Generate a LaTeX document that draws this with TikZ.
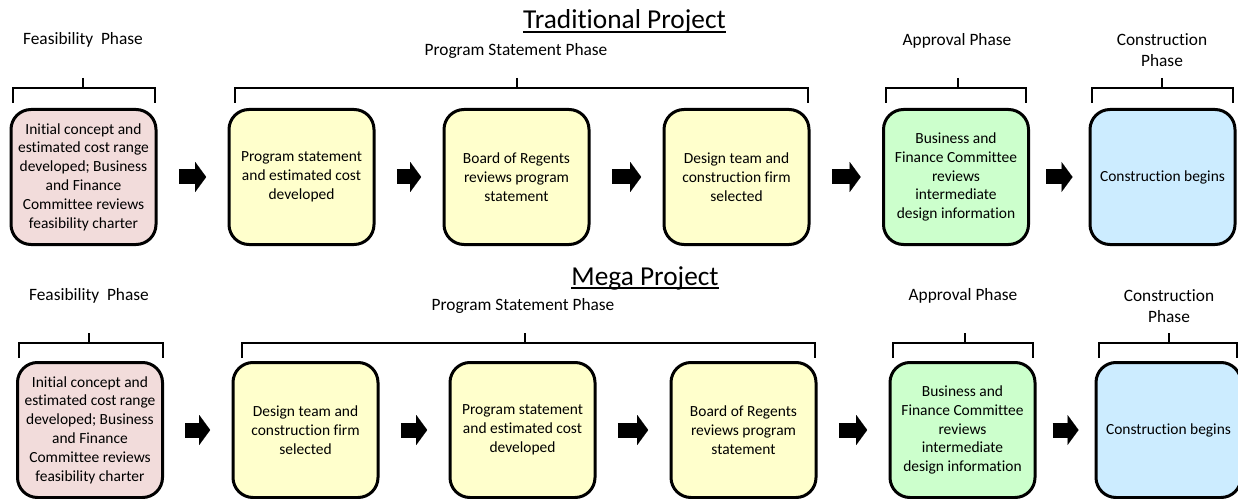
\documentclass[tikz,border=0pt]{standalone}
\usepackage{fontspec}
\setmainfont{Carlito}[Ligatures=NoCommon]
\usetikzlibrary{arrows.meta}
\definecolor{feascol}{HTML}{F2DCDB}
\definecolor{progcol}{HTML}{FFFFCC}
\definecolor{apprcol}{HTML}{CCFFCC}
\definecolor{conscol}{HTML}{CCECFF}
\begin{document}
\begin{tikzpicture}[
    x=0.75pt,y=-0.75pt,
    box/.style={draw,black,line width=2.25pt,rounded corners=15pt,minimum width=108.75pt,minimum height=101.25pt,align=center,inner sep=2pt,font=\fontsize{11.6}{14.1}\selectfont},
    phase/.style={anchor=base,align=center,inner sep=0pt,font=\fontsize{13}{15.75}\selectfont},
    headline/.style={anchor=base,inner sep=0pt,font=\fontsize{20.5}{24}\selectfont},
    brk/.style={draw,black,line width=1.6pt},
    go/.style={line width=11.25pt,-{Triangle[length=8.25pt,width=22.5pt,line width=0.01pt]},shorten <=16pt,shorten >=16pt}
    ]
    \useasboundingbox (0,0) rectangle (1238,499);
    % traditional project
    \node[headline] (trad) at (624.5,29) {Traditional Project};
    \draw[line width=1.5pt] ([yshift=-2.5pt]trad.base west) -- ([yshift=-2.5pt]trad.base east);
    \node[phase] (tfeas) at (83,45) {Feasibility\ \ Phase};
    \node[phase] (tprog) at (516,56) {Program Statement Phase};
    \node[phase] (tappr) at (957,46) {Approval Phase};
    \node[phase] (tcons) at (1162,67) {Construction\\Phase};
    \draw[brk] (13,103) |- (155,88) -- (155,103) (83,78) -- (83,88);
    \draw[brk] (235,103) |- (808,88) -- (808,103) (517,78) -- (517,88);
    \draw[brk] (886,103) |- (1026,88) -- (1026,103) (958,78) -- (958,88);
    \draw[brk] (1092,103) |- (1233,88) -- (1233,103) (1162,78) -- (1162,88);
    \node[box,fill=feascol] (t1) at (83.5,177) {Initial concept and\\estimated cost range\\developed; Business\\and Finance\\Committee reviews\\feasibility charter};
    \node[box,fill=progcol] (t2) at (301.5,177) {Program statement\\and estimated cost\\developed};
    \node[box,fill=progcol] (t3) at (516.5,177) {Board of Regents\\reviews program\\statement};
    \node[box,fill=progcol] (t4) at (736.5,177) {Design team and\\construction firm\\selected};
    \node[box,fill=apprcol] (t5) at (956,177) {Business and\\Finance Committee\\reviews\\intermediate\\design information};
    \node[box,fill=conscol] (t6) at (1162.5,177) {Construction begins};
    \draw[go] (t1) -- (t2);
    \draw[go] (t2) -- (t3);
    \draw[go] (t3) -- (t4);
    \draw[go] (t4) -- (t5);
    \draw[go,shorten <=12pt,shorten >=12pt] (t5) -- (t6);
    % mega project
    \node[headline] (mega) at (645,285) {Mega Project};
    \draw[line width=1.5pt] ([yshift=-2.5pt]mega.base west) -- ([yshift=-2.5pt]mega.base east);
    \node[phase] (mfeas) at (89,300) {Feasibility\ \ Phase};
    \node[phase] (mprog) at (523,310) {Program Statement Phase};
    \node[phase] (mappr) at (963,300) {Approval Phase};
    \node[phase] (mcons) at (1169,322) {Construction\\Phase};
    \draw[brk] (19,358) |- (163,343) -- (163,358) (89,333) -- (89,343);
    \draw[brk] (242,358) |- (815,343) -- (815,358) (525,333) -- (525,343);
    \draw[brk] (893,358) |- (1033,343) -- (1033,358) (965,333) -- (965,343);
    \draw[brk] (1099,358) |- (1237,343) -- (1237,358) (1169,333) -- (1169,343);
    \node[box,fill=feascol] (m1) at (90,430) {Initial concept and\\estimated cost range\\developed; Business\\and Finance\\Committee reviews\\feasibility charter};
    \node[box,fill=progcol] (m2) at (305.5,430) {Design team and\\construction firm\\selected};
    \node[box,fill=progcol] (m3) at (522.5,430) {Program statement\\and estimated cost\\developed};
    \node[box,fill=progcol] (m4) at (743.5,430) {Board of Regents\\reviews program\\statement};
    \node[box,fill=apprcol] (m5) at (962.5,430) {Business and\\Finance Committee\\reviews\\intermediate\\design information};
    \node[box,fill=conscol] (m6) at (1168.5,430) {Construction begins};
    \draw[go] (m1) -- (m2);
    \draw[go] (m2) -- (m3);
    \draw[go] (m3) -- (m4);
    \draw[go] (m4) -- (m5);
    \draw[go,shorten <=12pt,shorten >=12pt] (m5) -- (m6);
\end{tikzpicture}
\end{document}
